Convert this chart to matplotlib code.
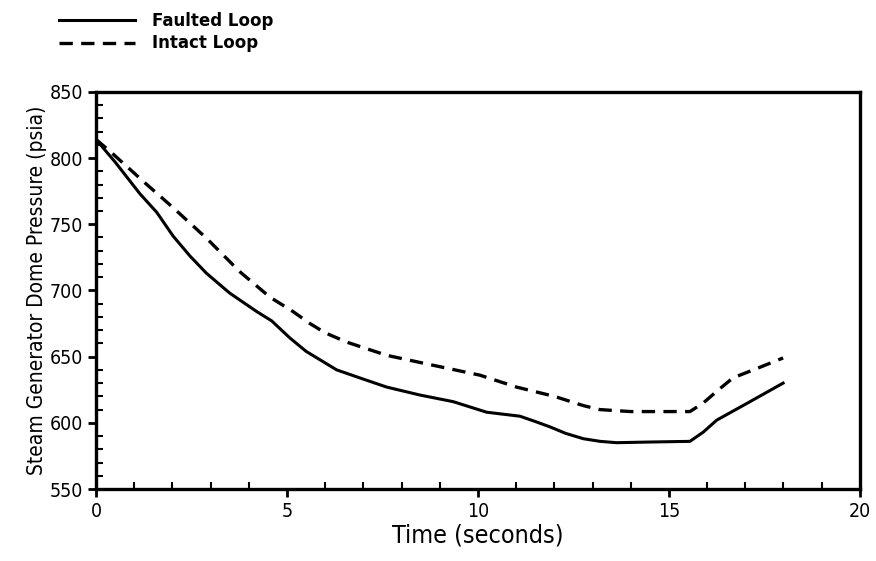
import matplotlib
matplotlib.use("Agg")
import matplotlib.pyplot as plt
from matplotlib.ticker import MultipleLocator

# 讀圖估計的數據
t_faulted = [0.0, 0.5, 1.15, 1.59, 2.02, 2.46, 2.89, 3.5, 4.21, 4.6, 5.08, 5.5,
             6.30, 7.0, 7.61, 8.48, 9.35, 10.23, 11.10, 11.5, 11.88, 12.3, 12.76,
             13.2, 13.63, 14.5, 15.55, 15.9, 16.25, 17.0, 17.99]
p_faulted = [814, 797, 773, 759, 741, 726, 713, 698, 684, 677, 664, 654,
             640, 633, 627, 621, 616, 608, 605, 601, 597, 592, 588,
             586, 585, 585.5, 586, 593, 602, 614, 630]

t_intact = [0.0, 0.37, 1.33, 2.0, 2.89, 3.77, 4.55, 5.16, 5.6, 6.0, 6.56,
            7.61, 8.74, 10.05, 11.01, 12.0, 12.76, 13.19, 14.0, 15.55, 15.9,
            16.3, 16.68, 17.3, 17.99]
p_intact = [814, 805, 780, 763, 739.5, 714, 695, 684, 675, 668, 661,
            651, 644, 636, 627, 620, 613, 610, 608.5, 608.5, 615,
            625, 634, 641, 649]

plt.rcParams["font.family"] = ["DejaVu Sans"]

fig = plt.figure(figsize=(8.76, 5.61), dpi=100)
ax = fig.add_axes([0.1096, 0.1283, 0.872, 0.708])

l1, = ax.plot(t_faulted, p_faulted, color="black", lw=2.2, label="Faulted Loop")
l2, = ax.plot(t_intact, p_intact, color="black", lw=2.4, ls=(0, (4, 2.5)), label="Intact Loop")

ax.set_xlim(0, 20)
ax.set_ylim(550, 850)
ax.xaxis.set_major_locator(MultipleLocator(5))
ax.xaxis.set_minor_locator(MultipleLocator(1))
ax.yaxis.set_major_locator(MultipleLocator(50))
ax.yaxis.set_minor_locator(MultipleLocator(10))
ax.tick_params(which="major", direction="out", length=6, width=2, labelsize=14)
ax.tick_params(which="minor", direction="in", length=5, width=1.5)
for s in ax.spines.values():
    s.set_linewidth(2.4)

for lab in ax.get_xticklabels() + ax.get_yticklabels():
    lab.set_fontstretch("condensed")

ax.set_xlabel("Time (seconds)", fontsize=18, fontstretch="condensed", labelpad=2)
ax.set_ylabel("Steam Generator Dome Pressure (psia)", fontsize=15,
              fontstretch="condensed", labelpad=2)

fig.legend(handles=[l1, l2], loc="upper left", bbox_to_anchor=(0.05, 1.005),
           frameon=False, handlelength=4.6, handletextpad=1.0,
           prop={"weight": "bold", "size": 12}, labelspacing=0.25)

fig.savefig("out.png", dpi=100)
